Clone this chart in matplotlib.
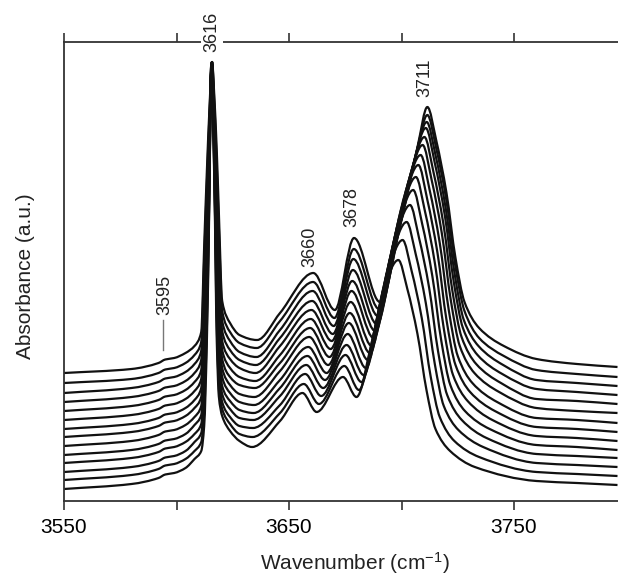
import numpy as np
import matplotlib
matplotlib.use("Agg")
import matplotlib.pyplot as plt
from matplotlib.path import Path
from matplotlib.patches import PathPatch

plt.rcParams['font.family'] = ['Liberation Sans', 'DejaVu Sans']
plt.rcParams['mathtext.default'] = 'regular'

# ---------------- data (14 spectra, top = index 0, bottom = index 13) ----------------
# absorbance at shared wavenumbers on the low-wavenumber side
A_3550 = [1.28, 1.18, 1.08, 0.99, 0.90, 0.81, 0.72, 0.64, 0.55, 0.46, 0.38, 0.29, 0.21, 0.12]
A_3580 = [1.32, 1.22, 1.13, 1.04, 0.95, 0.86, 0.77, 0.69, 0.60, 0.51, 0.43, 0.34, 0.26, 0.17]
A_3592 = [1.38, 1.28, 1.19, 1.10, 1.01, 0.92, 0.83, 0.75, 0.66, 0.57, 0.49, 0.40, 0.32, 0.23]
A_3595 = [1.415, 1.315, 1.225, 1.135, 1.045, 0.955, 0.865, 0.785, 0.695, 0.605, 0.525, 0.435, 0.355, 0.265]
A_3599 = [1.43, 1.33, 1.24, 1.15, 1.06, 0.97, 0.88, 0.80, 0.71, 0.62, 0.54, 0.45, 0.37, 0.28]
A_3604 = [1.48, 1.38, 1.29, 1.20, 1.11, 1.02, 0.93, 0.85, 0.76, 0.67, 0.59, 0.50, 0.42, 0.33]
A_3608 = [1.55, 1.46, 1.37, 1.28, 1.19, 1.10, 1.01, 0.93, 0.84, 0.76, 0.67, 0.59, 0.50, 0.42]
A_3611 = [1.69, 1.59, 1.50, 1.41, 1.31, 1.22, 1.13, 1.04, 0.95, 0.86, 0.77, 0.68, 0.59, 0.50]
A_3612 = [2.55, 2.41, 2.27, 2.14, 2.00, 1.86, 1.72, 1.58, 1.44, 1.30, 1.17, 1.03, 0.89, 0.75]
A_3613 = [3.30, 3.17, 3.04, 2.91, 2.78, 2.65, 2.52, 2.39, 2.26, 2.13, 2.00, 1.87, 1.74, 1.60]
A_3614 = [3.90, 3.83, 3.76, 3.69, 3.62, 3.55, 3.48, 3.41, 3.34, 3.27, 3.20, 3.13, 3.07, 3.00]
# 3616 band maximum
p3616_wn = [3615.8, 3615.8, 3615.8, 3615.7, 3615.7, 3615.7, 3615.6, 3615.6, 3615.6, 3615.5, 3615.5, 3615.5, 3615.4, 3615.4]
p3616_A = [4.39, 4.39, 4.39, 4.39, 4.38, 4.38, 4.38, 4.38, 4.37, 4.37, 4.37, 4.37, 4.36, 4.36]
A_3617 = [4.05, 3.98, 3.92, 3.85, 3.79, 3.72, 3.66, 3.59, 3.53, 3.46, 3.40, 3.33, 3.27, 3.20]
A_3618 = [3.50, 3.35, 3.21, 3.06, 2.92, 2.77, 2.63, 2.48, 2.34, 2.19, 2.04, 1.90, 1.75, 1.60]
A_3619 = [2.90, 2.75, 2.61, 2.46, 2.32, 2.17, 2.03, 1.88, 1.73, 1.59, 1.45, 1.31, 1.18, 1.05]
A_3620 = [2.00, 1.90, 1.80, 1.70, 1.60, 1.51, 1.42, 1.33, 1.24, 1.15, 1.07, 0.99, 0.92, 0.85]
A_3624 = [1.78, 1.69, 1.60, 1.51, 1.42, 1.33, 1.24, 1.16, 1.08, 1.00, 0.92, 0.84, 0.77, 0.70]
A_3628 = [1.66, 1.58, 1.49, 1.41, 1.33, 1.24, 1.16, 1.07, 0.99, 0.91, 0.83, 0.75, 0.67, 0.60]
# minimum after the 3616 band
v1_wn = [3635.8, 3635.6, 3635.5, 3635.3, 3635.1, 3635.0, 3634.8, 3634.6, 3634.5, 3634.3, 3634.1, 3634.0, 3633.8, 3633.6]
v1_A = [1.61, 1.53, 1.44, 1.36, 1.28, 1.20, 1.13, 1.04, 0.96, 0.88, 0.81, 0.73, 0.64, 0.54]
A_3646 = [1.88, 1.80, 1.71, 1.63, 1.55, 1.46, 1.38, 1.30, 1.21, 1.13, 1.05, 0.96, 0.88, 0.80]
# 3660 band
p3660_wn = [3660.8, 3660.7, 3660.5, 3660.3, 3660.0, 3659.7, 3659.4, 3659.0, 3658.6, 3658.2, 3657.7, 3657.2, 3656.6, 3656.0]
p3660_A = [2.28, 2.19, 2.10, 2.00, 1.91, 1.82, 1.73, 1.64, 1.54, 1.45, 1.36, 1.27, 1.17, 1.08]
v2_wn = [3670.4, 3670.2, 3669.9, 3669.5, 3669.0, 3668.5, 3668.0, 3667.4, 3666.7, 3666.0, 3665.2, 3664.3, 3663.3, 3662.3]
v2_A = [1.91, 1.83, 1.75, 1.67, 1.60, 1.52, 1.44, 1.36, 1.28, 1.21, 1.13, 1.05, 0.97, 0.89]
# 3678 band
p3678_wn = [3678.9, 3678.8, 3678.6, 3678.4, 3678.1, 3677.8, 3677.4, 3677.0, 3676.6, 3676.1, 3675.6, 3675.1, 3674.6, 3674.0]
p3678_A = [2.63, 2.52, 2.42, 2.31, 2.20, 2.10, 1.99, 1.88, 1.78, 1.67, 1.56, 1.46, 1.35, 1.24]
v3_wn = [3690.4, 3690.0, 3689.5, 3689.0, 3688.3, 3687.6, 3686.8, 3686.0, 3685.1, 3684.2, 3683.2, 3682.2, 3681.1, 3680.0]
v3_A = [1.99, 1.92, 1.85, 1.77, 1.70, 1.63, 1.55, 1.48, 1.41, 1.33, 1.26, 1.19, 1.11, 1.04]
# rising side of the 3711 band
lf1_wn = [3699.6, 3698.8, 3698.0, 3697.0, 3696.1, 3695.1, 3694.0, 3693.2, 3692.3, 3691.3, 3690.3, 3689.2, 3688.0, 3686.8]
lf1_A = [2.77, 2.70, 2.63, 2.55, 2.48, 2.40, 2.31, 2.23, 2.14, 2.04, 1.94, 1.83, 1.71, 1.59]
lf2_wn = [3707.2, 3706.5, 3705.7, 3704.9, 3703.8, 3702.8, 3701.7, 3700.7, 3699.6, 3698.4, 3697.1, 3695.6, 3694.0, 3692.3]
lf2_A = [3.55, 3.47, 3.40, 3.34, 3.25, 3.17, 3.08, 2.98, 2.87, 2.75, 2.62, 2.47, 2.31, 2.14]
# 3711 band maximum
p3711_wn = [3711.5, 3711.5, 3711.2, 3710.8, 3710.2, 3709.4, 3708.5, 3707.5, 3706.4, 3705.2, 3703.8, 3702.3, 3700.5, 3698.6]
p3711_A = [3.94, 3.86, 3.79, 3.73, 3.64, 3.56, 3.46, 3.36, 3.24, 3.11, 2.96, 2.79, 2.61, 2.41]
# falling side of the 3711 band
rf1_wn = [3715.5, 3715.5, 3715.2, 3714.8, 3714.2, 3713.4, 3712.5, 3711.5, 3710.4, 3709.2, 3707.8, 3706.3, 3704.5, 3702.6]
rf1_A = [3.60, 3.52, 3.45, 3.38, 3.29, 3.21, 3.11, 3.01, 2.90, 2.77, 2.63, 2.47, 2.30, 2.12]
rf2_wn = [3720.0, 3720.0, 3719.7, 3719.3, 3718.7, 3717.9, 3717.0, 3716.0, 3714.9, 3713.7, 3712.3, 3710.8, 3709.0, 3707.1]
rf2_A = [3.08, 3.00, 2.92, 2.85, 2.76, 2.68, 2.58, 2.48, 2.37, 2.25, 2.13, 1.98, 1.83, 1.67]
rf3_wn = [3724.0, 3724.0, 3723.7, 3723.3, 3722.7, 3721.9, 3721.0, 3720.0, 3718.9, 3717.7, 3716.3, 3714.8, 3713.0, 3711.1]
rf3_A = [2.43, 2.34, 2.26, 2.18, 2.09, 2.01, 1.91, 1.81, 1.71, 1.60, 1.49, 1.37, 1.24, 1.11]
rf4_wn = [3728.0, 3728.0, 3727.7, 3727.3, 3726.7, 3725.9, 3725.0, 3724.0, 3722.9, 3721.7, 3720.3, 3718.8, 3717.0, 3715.1]
rf4_A = [1.99, 1.90, 1.81, 1.73, 1.64, 1.55, 1.45, 1.36, 1.26, 1.16, 1.06, 0.95, 0.84, 0.72]
rf5_wn = [3734.5, 3734.5, 3734.2, 3733.8, 3733.2, 3732.4, 3731.5, 3730.5, 3729.4, 3728.2, 3726.8, 3725.3, 3723.5, 3721.6]
rf5_A = [1.73, 1.63, 1.55, 1.46, 1.37, 1.28, 1.18, 1.09, 1.00, 0.90, 0.81, 0.71, 0.60, 0.50]
rf6_wn = [3745.5, 3745.5, 3745.2, 3744.8, 3744.2, 3743.4, 3742.5, 3741.5, 3740.4, 3739.2, 3737.8, 3736.3, 3734.5, 3732.6]
rf6_A = [1.55, 1.45, 1.36, 1.27, 1.18, 1.09, 0.99, 0.90, 0.81, 0.72, 0.63, 0.54, 0.44, 0.34]
A_3760 = [1.42, 1.31, 1.21, 1.12, 1.02, 0.93, 0.83, 0.74, 0.65, 0.56, 0.47, 0.38, 0.29, 0.20]
A_3778 = [1.37, 1.27, 1.18, 1.09, 1.00, 0.90, 0.81, 0.72, 0.63, 0.54, 0.45, 0.36, 0.27, 0.18]
A_3796 = [1.34, 1.24, 1.15, 1.06, 0.97, 0.88, 0.78, 0.69, 0.60, 0.51, 0.43, 0.34, 0.25, 0.16]

# peak annotations
label_text = ['3595', '3616', '3660', '3678', '3711']
label_wn = [3594.9, 3615.8, 3659.3, 3678.0, 3710.4]
label_A = [2.06, 4.69, 2.54, 2.94, 4.235]
marker_wn = [3594.1, 3594.1]
marker_A = [1.51, 1.81]

x_ticks = [3550, 3600, 3650, 3700, 3750]
x_ticklabels = ['3550', '', '3650', '', '3750']

# ---------------- assemble each spectrum from the read points ----------------
points = [
    (3550, A_3550), (3580, A_3580), (3592, A_3592), (3595, A_3595), (3599, A_3599),
    (3604, A_3604), (3608, A_3608), (3611, A_3611), (3612.3, A_3612), (3613.5, A_3613),
    (3614.6, A_3614), (p3616_wn, p3616_A), (3616.8, A_3617), (3617.9, A_3618),
    (3618.8, A_3619), (3620.3, A_3620), (3623.8, A_3624), (3628, A_3628),
    (v1_wn, v1_A), (3646, A_3646), (p3660_wn, p3660_A), (v2_wn, v2_A),
    (p3678_wn, p3678_A), (v3_wn, v3_A), (lf1_wn, lf1_A), (lf2_wn, lf2_A), (p3711_wn, p3711_A),
    (rf1_wn, rf1_A), (rf2_wn, rf2_A), (rf3_wn, rf3_A), (rf4_wn, rf4_A), (rf5_wn, rf5_A),
    (rf6_wn, rf6_A), (3760, A_3760), (3778, A_3778), (3796, A_3796),
]


def smooth_path(x, y):
    """Monotone cubic (PCHIP-like) Bezier path through the read points."""
    x = np.asarray(x, float)
    y = np.asarray(y, float)
    h = np.diff(x)
    d = np.diff(y) / h
    m = np.zeros_like(y)
    m[0], m[-1] = d[0], d[-1]
    for k in range(1, len(x) - 1):
        if d[k - 1] * d[k] <= 0:
            m[k] = 0.0
        else:
            w1 = 2 * h[k] + h[k - 1]
            w2 = h[k] + 2 * h[k - 1]
            m[k] = (w1 + w2) / (w1 / d[k - 1] + w2 / d[k])
    verts = [(x[0], y[0])]
    codes = [Path.MOVETO]
    for k in range(len(x) - 1):
        verts += [(x[k] + h[k] / 3, y[k] + m[k] * h[k] / 3),
                  (x[k + 1] - h[k] / 3, y[k + 1] - m[k + 1] * h[k] / 3),
                  (x[k + 1], y[k + 1])]
        codes += [Path.CURVE4] * 3
    return Path(verts, codes)


fig = plt.figure(figsize=(6.18, 5.77), dpi=100)
ax = fig.add_axes([64 / 618, 76 / 577, 554 / 618, 459 / 577])

n_curves = len(A_3550)
for i in range(n_curves):
    xs = [w[i] if isinstance(w, list) else w for w, a in points]
    ys = [a[i] for w, a in points]
    patch = PathPatch(smooth_path(xs, ys), facecolor='none', edgecolor='#111111',
                      lw=1.6, transform=ax.transData, joinstyle='round')
    ax.add_patch(patch)

ax.set_xlim(3550, 3550 + 554 / 2.25)
ax.set_ylim(0, 4.59)

# annotations
ax.plot(marker_wn, marker_A, color='#777777', lw=1.0)
for t, w, a in zip(label_text, label_wn, label_A):
    kw = {}
    if t == '3616':
        kw['bbox'] = dict(facecolor='white', edgecolor='none', pad=1.5)
    ax.text(w, a, t, rotation=90, ha='center', va='center', fontsize=13,
            color='#222222', clip_on=False, zorder=5, **kw)

# axes styling
for s in ['top', 'bottom', 'left']:
    ax.spines[s].set_linewidth(1.3)
    ax.spines[s].set_color('#333333')
ax.spines['right'].set_visible(False)
ax.set_yticks([])
ax.set_xticks(x_ticks)
ax.set_xticklabels(x_ticklabels)
ax.tick_params(axis='x', which='both', direction='out', length=6.5, width=1.2,
               color='#333333', top=True, bottom=True, labeltop=False,
               labelsize=15, pad=6)

ax.set_ylabel('Absorbance (a.u.)', fontsize=15, color='#222222')
ax.yaxis.set_label_coords(-0.052, 0.49)
ax.set_xlabel('Wavenumber (cm$^{-1}$)', fontsize=15, color='#222222')
ax.xaxis.set_label_coords(0.525, -0.108)

fig.savefig('out.png', dpi=100)
